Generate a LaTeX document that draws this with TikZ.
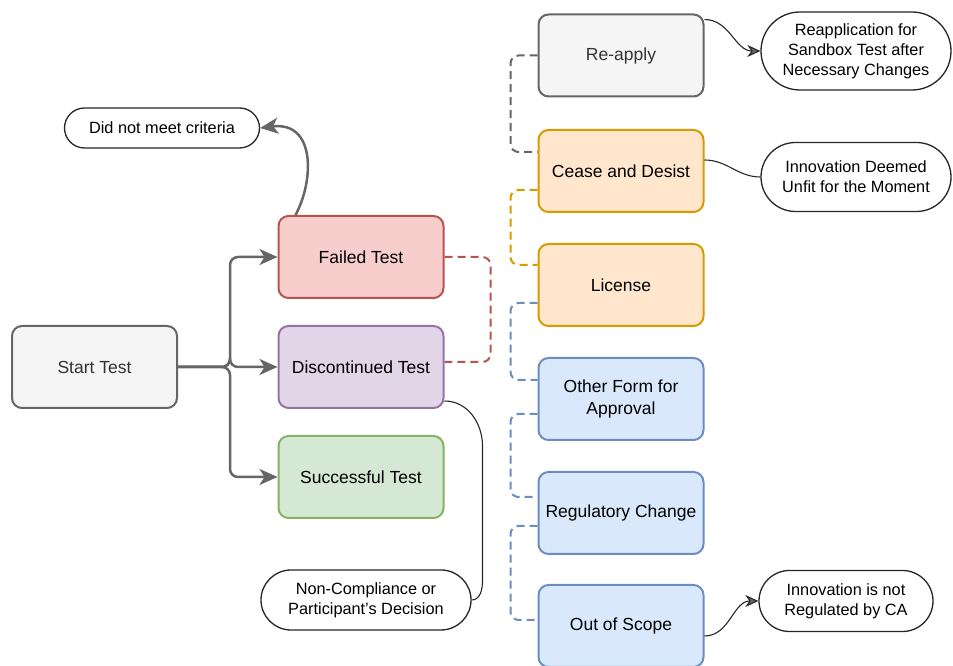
\documentclass[tikz,border=0pt]{standalone}
\usepackage{fontspec}
\setmainfont{Liberation Sans}
\usetikzlibrary{arrows.meta,shapes.misc,calc}
\definecolor{grayF}{HTML}{F5F5F5}\definecolor{grayL}{HTML}{666666}
\definecolor{redF}{HTML}{F8CECC}\definecolor{redL}{HTML}{B85450}
\definecolor{purpleF}{HTML}{E1D5E7}\definecolor{purpleL}{HTML}{9673A6}
\definecolor{greenF}{HTML}{D5E8D4}\definecolor{greenL}{HTML}{82B366}
\definecolor{orangeF}{HTML}{FFE6CC}\definecolor{orangeL}{HTML}{D79B00}
\definecolor{blueF}{HTML}{DAE8FC}\definecolor{blueL}{HTML}{6C8EBF}
\definecolor{graytext}{HTML}{333333}
\tikzstyle{box}=[rectangle,rounded corners=10pt,line width=2pt,minimum width=165pt,minimum height=82pt,align=center,font=\fontsize{17.5}{22}\selectfont,inner sep=2pt]
\tikzstyle{pill}=[rounded rectangle,draw=black!85,line width=1.3pt,fill=white,align=center,font=\fontsize{16.3}{20}\selectfont,inner sep=2pt]
\tikzstyle{flow} = [draw,grayL,line width=2.5pt,rounded corners=8pt,-{Stealth[length=18pt,width=16pt,inset=5pt]}]
\tikzstyle{dashedlink} = [draw,line width=2pt,rounded corners=8pt,dash pattern=on 8pt off 5pt]
\tikzstyle{note} = [draw,black!85,line width=1.1pt]
\tikzstyle{notearrow} = [note,-{Stealth[length=13pt,width=12pt,inset=4pt,fill=grayL]}]

\begin{document}
\begin{tikzpicture}[x=1pt,y=1pt]
\useasboundingbox (0,0) rectangle (953,666);

    % boxes
    \foreach \pos/ \name/ \txt/ \fc/ \lc in {{(94.5,299)/start/{\color{graytext}Start Test}/grayF/grayL},
        {(361,409)/fail/Failed Test/redF/redL}, {(361,299)/disc/Discontinued Test/purpleF/purpleL},
        {(361,189)/succ/Successful Test/greenF/greenL},
        {(621,610.5)/reapply/{\color{graytext}Re-apply}/grayF/grayL}, {(621,495)/cease/Cease and Desist/orangeF/orangeL},
        {(621,381)/license/License/orangeF/orangeL}, {(621,267)/other/{Other Form for\\Approval}/blueF/blueL},
        {(621,153)/regch/Regulatory Change/blueF/blueL}, {(621,40)/scope/Out of Scope/blueF/blueL}}
        \node[box,fill=\fc,draw=\lc] (\name) at \pos {\txt};

    % outcomes
    \node[pill,minimum width=199pt,minimum height=40pt] (crit) at (162,538) {Did not meet criteria};
    \node[pill,minimum width=194pt,minimum height=78pt] (reapp) at (856,615) {Reapplication for\\Sandbox Test after\\Necessary Changes};
    \node[pill,minimum width=194pt,minimum height=69pt] (deemed) at (856,489) {Innovation Deemed\\Unfit for the Moment};
    \node[pill,minimum width=178pt,minimum height=61pt] (notreg) at (846,65) {Innovation is not\\Regulated by CA};
    \node[pill,minimum width=214pt,minimum height=60pt] (noncomp) at (366,66) {Non-Compliance or\\Participant's Decision};

    % branches from the start
    \foreach \dest in {fail, disc, succ}
        \path[flow] (start.east) -- ++(52,0) |- (\dest.west);

    \draw[flow,rounded corners=0pt] ([xshift=18pt]fail.north west) .. controls (314,485) and (316,545) .. (crit.east);

    % dashed links
    \path[dashedlink,redL] (fail.east) -- ++(46,0) |- ([yshift=5pt]disc.east);
    \path[dashedlink,grayL] (reapply.west) -- ++(-27,0) |- ([yshift=19pt]cease.west);
    \path[dashedlink,orangeL] ([yshift=-19pt]cease.west) -- ++(-27,0) |- ([yshift=20pt]license.west);
    \foreach \source/ \dest/ \sa/ \da in {license/other/-18/19, other/regch/-15/16, regch/scope/-13/6}
        \path[dashedlink,blueL] ([yshift=\sa pt]\source.west) -- ++(-27,0) |- ([yshift=\da pt]\dest.west);

    % notes
    \draw[notearrow] ([yshift=-6pt]reapply.north east) to [out=0, in=180] (reapp.west);
    \draw[note] ([yshift=11pt]cease.east) to [out=0, in=180] (deemed.west);
    \draw[notearrow] ([yshift=-10pt]scope.east) to [out=0, in=180] (notreg.west);
    \draw[note] ([yshift=8pt]disc.south east) to [out=0, in=90] ++(38,-45) -- ++(0,-135) to [out=-90, in=0] (noncomp.east);

 \end{tikzpicture}
\end{document}
